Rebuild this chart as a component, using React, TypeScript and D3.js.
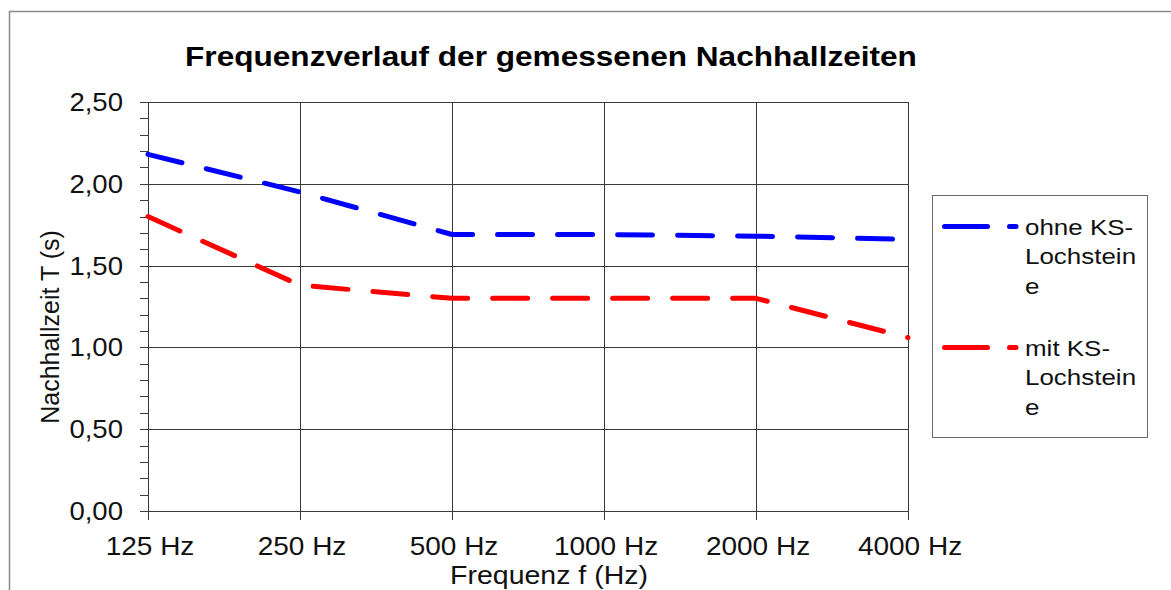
import React from "react";
import * as d3 from "d3";

const categories = ["125 Hz", "250 Hz", "500 Hz", "1000 Hz", "2000 Hz", "4000 Hz"];
const ohneValues = [2.18, 1.95, 1.69, 1.69, 1.68, 1.66];
const mitValues = [1.8, 1.38, 1.3, 1.3, 1.3, 1.06];
const yTicks = [0, 0.5, 1.0, 1.5, 2.0, 2.5];
const yMinorTicks = d3.range(0, 2.5001, 0.1);
const seriesNames = [["ohne KS-", "Lochstein", "e"], ["mit KS-", "Lochstein", "e"]];
const seriesColors = ["#0000ff", "#ff0000"];

const W = 1171;
const H = 590;
const plot = { left: 148, right: 908, top: 102, bottom: 511 };
const FONT = "'Liberation Sans', Arial, sans-serif";

type STProps = {
  x: number;
  y: number;
  sx: number;
  size: number;
  anchor?: "start" | "middle" | "end";
  bold?: boolean;
  children: React.ReactNode;
};

function SText({ x, y, sx, size, anchor = "start", bold = false, children }: STProps) {
  return (
    <text
      transform={`translate(${x},${y}) scale(${sx},1)`}
      textAnchor={anchor}
      fontSize={size}
      fontWeight={bold ? "bold" : "normal"}
      fill={bold ? "#000" : "#111"}
    >
      {children}
    </text>
  );
}

export default function App() {
  const x = d3.scalePoint<string>().domain(categories).range([plot.left, plot.right]).padding(0);
  const y = d3.scaleLinear().domain([0, 2.5]).range([plot.bottom, plot.top]);
  const line = d3
    .line<number>()
    .x((_, i) => x(categories[i]) as number)
    .y((d) => y(d));
  const fmt = (v: number) => v.toFixed(2).replace(".", ",");
  const series = [ohneValues, mitValues];
  const gridColor = "#3a3a3a";
  const dash = "35 25";

  const legendBox = { x: 932, y: 195, w: 215, h: 242 };
  const legendRows = [226.5, 347.5];

  return (
    <svg
      width={W}
      height={H}
      style={{ position: "absolute", left: 0, top: 0, background: "#fff" }}
      fontFamily={FONT}
    >
      <rect x={0} y={0} width={W} height={H} fill="#fff" />
      {/* outer frame */}
      <path d={`M9.5,${H} V11.5 H${W}`} fill="none" stroke="#8a8a8a" strokeWidth={1.5} />

      {/* title */}
      <SText x={551} y={66} sx={1.17} size={27} anchor="middle" bold>
        Frequenzverlauf der gemessenen Nachhallzeiten
      </SText>

      {/* horizontal grid */}
      {yTicks.map((t) => (
        <line key={"h" + t} x1={140} x2={plot.right} y1={Math.round(y(t)) + 0.5} y2={Math.round(y(t)) + 0.5} stroke={gridColor} strokeWidth={1} />
      ))}
      {/* minor ticks */}
      {yMinorTicks.map((t, i) => (
        <line key={"m" + i} x1={140} x2={plot.left} y1={Math.round(y(t)) + 0.5} y2={Math.round(y(t)) + 0.5} stroke={gridColor} strokeWidth={1} />
      ))}
      {/* vertical grid */}
      {categories.map((c) => (
        <line key={"v" + c} x1={Math.round(x(c) as number) + 0.5} x2={Math.round(x(c) as number) + 0.5} y1={plot.top} y2={plot.bottom + 9} stroke={gridColor} strokeWidth={1} />
      ))}

      {/* y tick labels */}
      {yTicks.map((t) => (
        <SText key={"yl" + t} x={123} y={y(t) + 9} sx={1.06} size={26} anchor="end">
          {fmt(t)}
        </SText>
      ))}
      {/* x tick labels */}
      {categories.map((c) => (
        <SText key={"xl" + c} x={(x(c) as number) + 2} y={555} sx={1.12} size={25} anchor="middle">
          {c}
        </SText>
      ))}

      {/* axis titles */}
      <SText x={549} y={584} sx={1.14} size={25} anchor="middle">
        Frequenz f (Hz)
      </SText>
      <text transform="translate(59,327) rotate(-90)" textAnchor="middle" fontSize={25} fill="#111">
        Nachhallzeit  T (s)
      </text>

      {/* series */}
      {series.map((vals, i) => (
        <path
          key={"s" + i}
          d={line(vals) as string}
          fill="none"
          stroke={seriesColors[i]}
          strokeWidth={5}
          strokeDasharray={dash}
          strokeLinecap="round"
          strokeLinejoin="round"
        />
      ))}

      {/* legend */}
      <rect x={legendBox.x + 0.5} y={legendBox.y + 0.5} width={legendBox.w} height={legendBox.h} fill="#fff" stroke="#6a6a6a" strokeWidth={1} />
      {legendRows.map((ry, i) => (
        <g key={"lg" + i}>
          <line x1={944.5} x2={1016} y1={ry} y2={ry} stroke={seriesColors[i]} strokeWidth={5} strokeDasharray="43 22" strokeLinecap="round" />
          {seriesNames[i].map((s, j) => (
            <SText key={j} x={1025} y={ry + 8 + j * 29.5} sx={1.18} size={22}>
              {s}
            </SText>
          ))}
        </g>
      ))}
    </svg>
  );
}
